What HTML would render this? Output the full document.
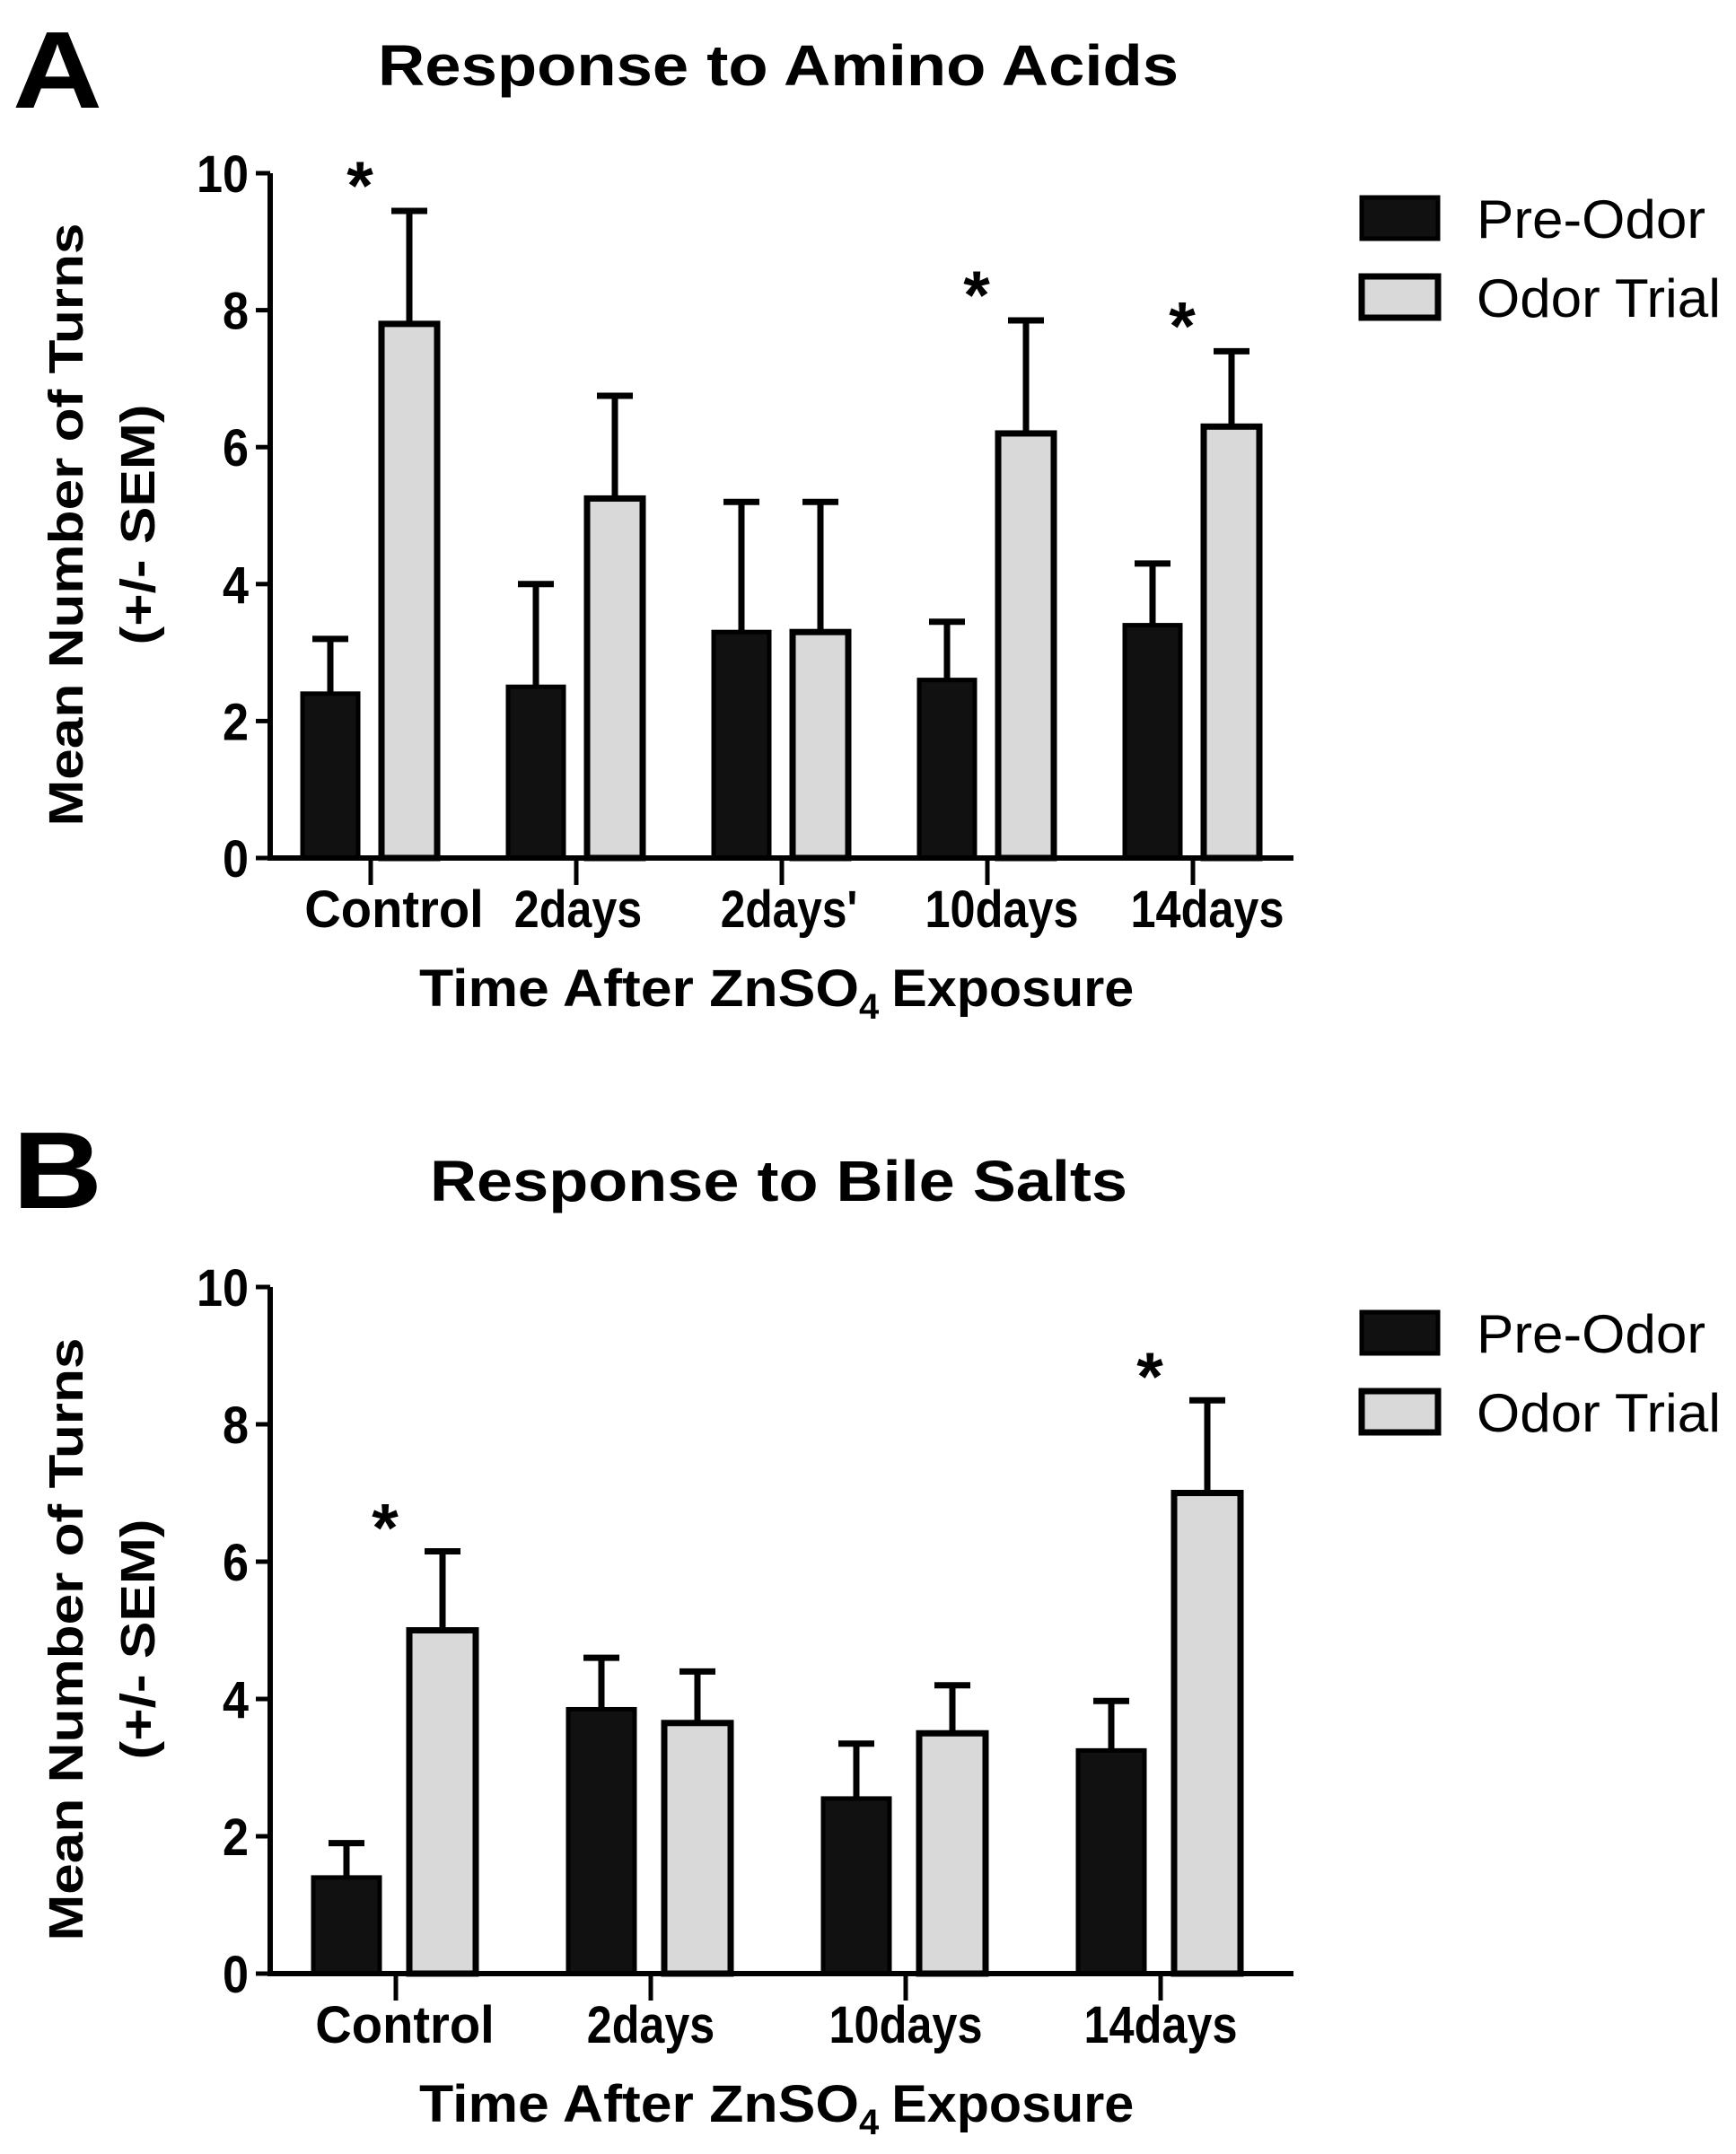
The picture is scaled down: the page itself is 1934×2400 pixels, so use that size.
<!DOCTYPE html>
<html><head><meta charset="utf-8"><style>
html,body{margin:0;padding:0;background:#fff}
svg{display:block;font-family:"Liberation Sans",sans-serif}
</style></head><body>
<svg id="fig" width="1934" height="2400" viewBox="0 0 1934 2400" xmlns="http://www.w3.org/2000/svg"></svg>
<script>
// Panel A data
const catsA = ["Control","2days","2days'","10days","14days"];
const preA = [2.4, 2.5, 3.3, 2.6, 3.4];
const preErrA = [3.2, 4.0, 5.2, 3.45, 4.3];
const odorA = [7.8, 5.25, 3.3, 6.2, 6.3];
const odorErrA = [9.45, 6.75, 5.2, 7.85, 7.4];
const starsA = [true, false, false, true, true];
// Panel B data
const catsB = ["Control","2days","10days","14days"];
const preB = [1.4, 3.85, 2.55, 3.25];
const preErrB = [1.9, 4.6, 3.35, 3.97];
const odorB = [5.0, 3.65, 3.5, 7.0];
const odorErrB = [6.15, 4.4, 4.2, 8.35];
const starsB = [true, false, false, true];
const yTicks = [0, 2, 4, 6, 8, 10];

const svg = document.getElementById('fig');
const NS = 'http://www.w3.org/2000/svg';
function mk(tag, attrs, parent){
  const e = document.createElementNS(NS, tag);
  for (const k in attrs) e.setAttribute(k, attrs[k]);
  (parent || svg).appendChild(e);
  return e;
}
function txt(s, attrs, parent){ const t = mk('text', attrs, parent); t.textContent = s; return t; }

function panel(cfg){
  const g = mk('g', {});
  
  
  const x0 = 301, x1 = 1441, yTop = cfg.yTop, yBot = cfg.yBot;
  const ys = v => yBot - (v / 10) * (yBot - yTop);
  const xc = i => cfg.tick0 + i * cfg.step;
  const L = txt(cfg.letter, {x: 14, y: cfg.letterY, 'font-size': 122, 'font-weight': 'bold', textLength: 100, lengthAdjust: 'spacingAndGlyphs'}, g);
  
  
  const T = txt(cfg.title, {x: cfg.titleX, y: cfg.titleY, 'font-size': 64, 'font-weight': 'bold', textLength: cfg.titleW, lengthAdjust: 'spacingAndGlyphs'}, g);
  
  
  cfg.cats.forEach((c, i) => {
    const cx = xc(i);
    const pl = cx + cfg.preOff, ol = cx + cfg.odorOff, w = cfg.bw;
    const e1 = mk('path', {d: `M${pl + w/2} ${ys(cfg.pre[i])} V${ys(cfg.preErr[i])} M${pl + w/2 - 20} ${ys(cfg.preErr[i])} H${pl + w/2 + 20}`, stroke: '#000', 'stroke-width': 7, fill: 'none'}, g);
    
    
    const e2 = mk('path', {d: `M${ol + w/2} ${ys(cfg.odor[i])} V${ys(cfg.odorErr[i])} M${ol + w/2 - 20} ${ys(cfg.odorErr[i])} H${ol + w/2 + 20}`, stroke: '#000', 'stroke-width': 7, fill: 'none'}, g);
    
    
    const b1 = mk('rect', {x: pl, y: ys(cfg.pre[i]), width: w, height: yBot - ys(cfg.pre[i]), fill: '#111', stroke: '#000', 'stroke-width': 5}, g);
    
    
    const b2 = mk('rect', {x: ol, y: ys(cfg.odor[i]), width: w, height: yBot - ys(cfg.odor[i]), fill: '#d9d9d9', stroke: '#000', 'stroke-width': 7}, g);
    
    
    if (cfg.stars[i]) {
      const s = txt('*', {x: cx + cfg.starOff, y: ys(cfg.odorErr[i]) - cfg.starGap, 'font-size': 76, 'font-weight': 'bold', 'text-anchor': 'middle'}, g);
      
      
    }
    const tk = mk('line', {x1: cx, x2: cx, y1: yBot, y2: yBot + 30, stroke: '#000', 'stroke-width': 5}, g);
    
    
    const len = c.replace("'", '').length * 28.5 + (c.includes("'") ? 10 : 0);
    const lb = txt(c, {x: cx + cfg.labOff[i], y: yBot + 77, 'font-size': 58, 'font-weight': 'bold', 'text-anchor': 'middle', textLength: len, lengthAdjust: 'spacingAndGlyphs'}, g);
    
    
  });
  const ax = mk('path', {d: `M${x0} ${yTop} V${yBot} H${x1}`, stroke: '#000', 'stroke-width': 6, fill: 'none'}, g);
  
  
  yTicks.forEach(v => {
    const t = mk('line', {x1: x0 - 16, x2: x0, y1: ys(v), y2: ys(v), stroke: '#000', 'stroke-width': 5}, g);
    
    
    const l = txt(String(v), {x: x0 - 24, y: ys(v) + 21, 'font-size': 58, 'font-weight': 'bold', 'text-anchor': 'end', textLength: String(v).length * 29, lengthAdjust: 'spacingAndGlyphs'}, g);
    
    
  });
  const cy = (yTop + yBot) / 2 + 10;
  const yt = txt('Mean Number of Turns', {x: 0, y: 0, 'font-size': 54, 'font-weight': 'bold', 'text-anchor': 'middle', textLength: 672, lengthAdjust: 'spacingAndGlyphs', transform: `translate(92 ${cy}) rotate(-90)`}, g);
  
  
  const yt2 = txt('(+/- SEM)', {x: 0, y: 0, 'font-size': 54, 'font-weight': 'bold', 'text-anchor': 'middle', textLength: 268, lengthAdjust: 'spacingAndGlyphs', transform: `translate(172 ${cy}) rotate(-90)`}, g);
  
  
  const xt = txt('', {x: 467, y: yBot + 165, 'font-size': 58, 'font-weight': 'bold'}, g);
  
  
  const a = mk('tspan', {textLength: 490, lengthAdjust: 'spacingAndGlyphs'}, xt); a.textContent = 'Time After ZnSO';
  const b = mk('tspan', {dy: 14, 'font-size': 40}, xt); b.textContent = '4';
  const c2 = mk('tspan', {dy: -14, dx: 14, textLength: 270, lengthAdjust: 'spacingAndGlyphs'}, xt); c2.textContent = 'Exposure';
  const lg = mk('g', {}, g);
  
  
  const r1 = mk('rect', {x: 1517, y: cfg.legY, width: 85, height: 46, fill: '#111', stroke: '#000', 'stroke-width': 5}, lg);
  
  
  const t1 = txt('Pre-Odor', {x: 1645, y: cfg.legY + 45, 'font-size': 60, textLength: 255, lengthAdjust: 'spacingAndGlyphs'}, lg);
  
  
  const r2 = mk('rect', {x: 1517, y: cfg.legY + 88, width: 85, height: 46, fill: '#d9d9d9', stroke: '#000', 'stroke-width': 7}, lg);
  
  
  const t2 = txt('Odor Trial', {x: 1645, y: cfg.legY + 133, 'font-size': 60, textLength: 272, lengthAdjust: 'spacingAndGlyphs'}, lg);
  
  
}

panel({name: 'panel-a-amino-acids', letter: 'A', letterY: 120, title: 'Response to Amino Acids', titleX: 421, titleY: 95, titleW: 892,
  yTop: 193, yBot: 956, tick0: 413, step: 229, bw: 62, preOff: -76, odorOff: 12, starOff: -12, starGap: 2,
  cats: catsA, pre: preA, preErr: preErrA, odor: odorA, odorErr: odorErrA, stars: starsA,
  labOff: [26, 2, 8, 16, 16], legY: 220});
panel({name: 'panel-b-bile-salts', letter: 'B', letterY: 1346, title: 'Response to Bile Salts', titleX: 479, titleY: 1338, titleW: 777,
  yTop: 1434, yBot: 2199, tick0: 441, step: 284, bw: 74, preOff: -92, odorOff: 15, starOff: -12, starGap: 0,
  cats: catsB, pre: preB, preErr: preErrB, odor: odorB, odorErr: odorErrB, stars: starsB,
  labOff: [10, 0, 0, 0], legY: 1462});
</script>
</body></html>
